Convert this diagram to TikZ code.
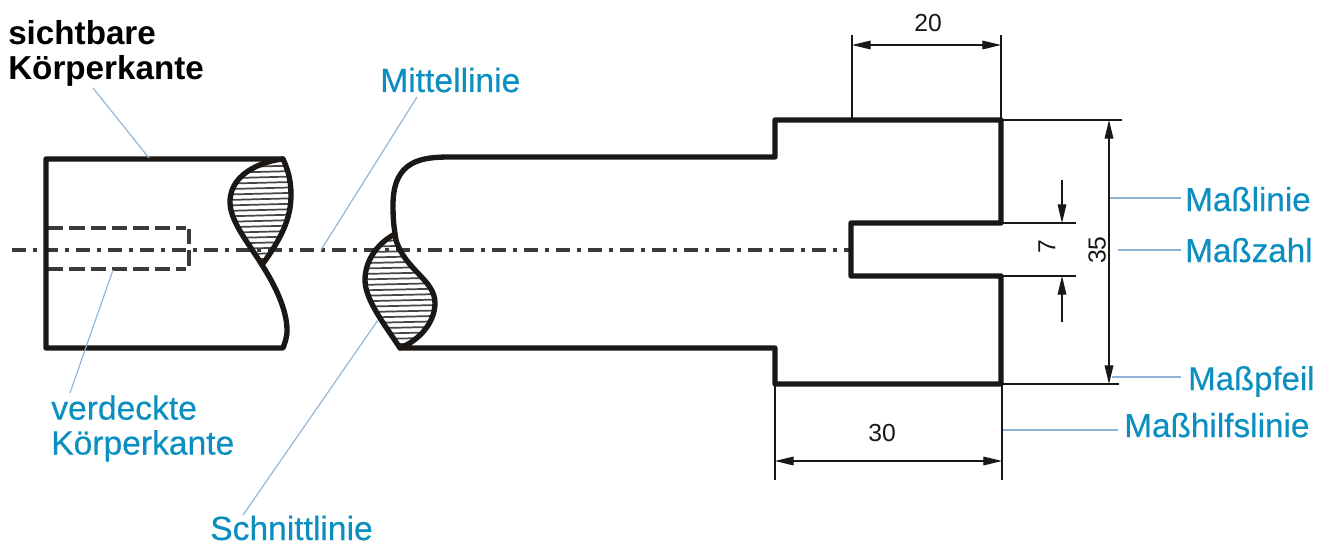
\documentclass[tikz,border=0pt]{standalone}
\usepackage{fontspec}
\setmainfont{Liberation Sans}
\newfontfamily\lblfont[FakeBold=0.35]{Liberation Sans}
\usetikzlibrary{arrows.meta}
\definecolor{lbl}{HTML}{0A8FC0}
\definecolor{lead}{HTML}{8FB2D8}
\definecolor{ink}{HTML}{1A1715}
\tikzset{
  body/.style={draw=ink,line width=4pt,line join=round,line cap=round},
  extline/.style={draw=ink,line width=0.95pt},
  dim/.style={draw=ink,line width=0.95pt,{Triangle[length=14pt,width=6.5pt]}-{Triangle[length=14pt,width=6.5pt]}},
  dimone/.style={draw=ink,line width=0.95pt,-{Triangle[length=14pt,width=6.5pt]}},
  leader/.style={draw=lead,line width=0.85pt},
  centreline/.style={draw=ink!85,line width=2.4pt,dash pattern=on 10.5pt off 5pt on 3pt off 5.5pt},
  hiddenline/.style={draw=ink!85,line width=2.4pt,dash pattern=on 11.5pt off 4.5pt},
  hatch/.style={draw=ink!80,line width=1.3pt},
  bluetext/.style={text=lbl,font=\lblfont\fontsize{25.2}{26}\selectfont,inner sep=0pt,anchor=base west},
  blocktext/.style={font=\fontsize{24}{26}\selectfont,inner sep=0pt,anchor=north west,align=left},
  num/.style={text=ink,font=\fontsize{18.5}{20}\selectfont,inner sep=0pt}
}
\begin{document}
\begin{tikzpicture}[x=0.75pt,y=-0.75pt]
\useasboundingbox (0,0) rectangle (1318,542);
% centre line
\coordinate (cl0) at (12,250);
\coordinate (cl1) at (851,250);
\draw[centreline] (cl0) -- (cl1);
% hidden bore
\coordinate (h1) at (48,228); \coordinate (h2) at (186,228);
\coordinate (h3) at (48,269); \coordinate (h4) at (186,269);
\coordinate (h5) at (189,229); \coordinate (h6) at (189,269);
\draw[hiddenline] (h1) -- (h2);
\draw[hiddenline] (h3) -- (h4);
\draw[hiddenline] (h5) -- (h6);
% left piece hatch
\begin{scope}
\clip (283,159) .. controls (270,160) and (230,170) .. (230,202) .. controls (230,222) and (250,245) .. (262,265) .. controls (280,240) and (291,220) .. (291,195) .. controls (291,180) and (288,170) .. (283,159) -- cycle;
\foreach \yy in {0,...,20} \draw[hatch] (225,161+5.45*\yy+0.9) -- (295,161+5.45*\yy-0.9);
\end{scope}
% right piece hatch
\begin{scope}
\clip (395,234) .. controls (378,243) and (365,260) .. (365,280) .. controls (365,300) and (385,325) .. (400,348) .. controls (420,340) and (435,322) .. (435,303) .. controls (435,280) and (405,270) .. (397,240) -- cycle;
\foreach \yy in {0,...,21} \draw[hatch] (360,235+5.45*\yy+0.9) -- (440,235+5.45*\yy-0.9);
\end{scope}
% left piece outline
\draw[body] (283,159) -- (46,159) -- (46,348) -- (283,348)
  .. controls (285,342) and (287,338) .. (287,330)
  .. controls (287,310) and (275,285) .. (262,265)
  .. controls (280,240) and (291,220) .. (291,195)
  .. controls (291,180) and (288,170) .. (283,159);
\draw[body] (283,159) .. controls (270,160) and (230,170) .. (230,202) .. controls (230,222) and (250,245) .. (262,265);
% right piece outline
\draw[body] (400,348) -- (775,348) -- (775,384) -- (1001,384) -- (1001,276) -- (851,276) -- (851,223) -- (1001,223) -- (1001,120) -- (775,120) -- (775,157) -- (450,157)
  .. controls (422,157) and (393,160) .. (393,205)
  .. controls (393,220) and (394,228) .. (396,240)
  .. controls (405,270) and (435,280) .. (435,303)
  .. controls (435,322) and (420,340) .. (400,348);
\draw[body] (395,234) .. controls (378,243) and (365,260) .. (365,280) .. controls (365,300) and (385,325) .. (400,348);
% extension lines
\coordinate (e20a) at (852,120); \coordinate (e20b) at (852,35);
\coordinate (e20c) at (1001,120); \coordinate (e20d) at (1001,35);
\coordinate (e30a) at (775,384); \coordinate (e30b) at (775,480);
\coordinate (e30c) at (1002,384); \coordinate (e30d) at (1002,480);
\coordinate (e35a) at (1001,120); \coordinate (e35b) at (1122,120);
\coordinate (e35c) at (1001,384); \coordinate (e35d) at (1119,384);
\coordinate (e7a) at (1001,223); \coordinate (e7b) at (1076,223);
\coordinate (e7c) at (1001,276); \coordinate (e7d) at (1076,276);
\foreach \a/\b in {e20a/e20b,e20c/e20d,e30a/e30b,e30c/e30d,e35a/e35b,e35c/e35d,e7a/e7b,e7c/e7d}
  \draw[extline] (\a) -- (\b);
% dimension lines
\coordinate (d20a) at (852,45); \coordinate (d20b) at (1001,45);
\coordinate (d30a) at (775,461); \coordinate (d30b) at (1002,461);
\coordinate (d35a) at (1109,120); \coordinate (d35b) at (1109,384);
\coordinate (d7a) at (1062,180); \coordinate (d7b) at (1062,223);
\coordinate (d7c) at (1062,322); \coordinate (d7d) at (1062,276);
\draw[dim] (d20a) -- (d20b);
\draw[dim] (d30a) -- (d30b);
\draw[dim] (d35a) -- (d35b);
\draw[dimone] (d7a) -- (d7b);
\draw[dimone] (d7c) -- (d7d);
% numbers
\node[num] (n20) at (928,23) {20};
\node[num] (n30) at (882,433) {30};
\node[num,rotate=90] (n35) at (1097,250) {35};
\node[num,rotate=90] (n7) at (1047,247) {7};
% labels
\node[blocktext,font=\fontsize{24.9}{26.2}\selectfont\bfseries,text=black] (tsicht) at (8,20) {sichtbare\\Körperkante};
\node[blocktext,text=lbl,font=\lblfont\fontsize{25.2}{26.2}\selectfont] (tverd) at (51,395) {verdeckte\\Körperkante};
\node[bluetext] (tmitte) at (380,92) {Mittellinie};
\node[bluetext] (tschnitt) at (210,540) {Schnittlinie};
\node[bluetext,font=\lblfont\fontsize{24.9}{26}\selectfont] (tlinie) at (1185,211) {Maßlinie};
\node[bluetext,font=\lblfont\fontsize{24.9}{26}\selectfont] (tzahl) at (1185,262) {Maßzahl};
\node[bluetext,font=\lblfont\fontsize{24.7}{26}\selectfont] (tpfeil) at (1188,390) {Maßpfeil};
\node[bluetext,font=\lblfont\fontsize{25}{26}\selectfont] (thilf) at (1124,437) {Maßhilfslinie};
% leaders
\coordinate (l1a) at (93,88);   \coordinate (l1b) at (149,158);
\coordinate (l2a) at (417,97);  \coordinate (l2b) at (321,250);
\coordinate (l3a) at (70,393);  \coordinate (l3b) at (113,270);
\coordinate (l4a) at (243,515); \coordinate (l4b) at (378,320);
\coordinate (l5a) at (1181,198);\coordinate (l5b) at (1110,198);
\coordinate (l6a) at (1181,250);\coordinate (l6b) at (1118,250);
\coordinate (l7a) at (1181,377);\coordinate (l7b) at (1112,377);
\coordinate (l8a) at (1118,430);\coordinate (l8b) at (1003,430);
\foreach \a/\b in {l1a/l1b,l2a/l2b,l3a/l3b,l4a/l4b,l5a/l5b,l6a/l6b,l7a/l7b,l8a/l8b}
  \draw[leader] (\a) -- (\b);
\end{tikzpicture}
\end{document}
